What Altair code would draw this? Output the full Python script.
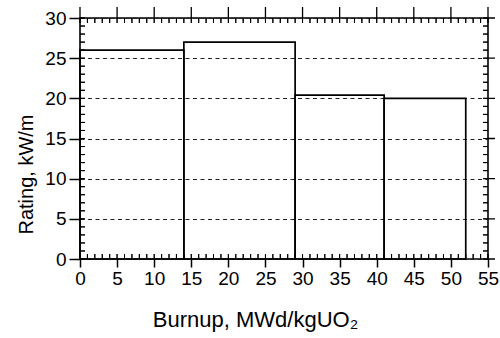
import altair as alt
import pandas as pd

# Fuel rating limit per burnup interval
burnup_start = [0, 14, 29, 41]
burnup_end = [14, 29, 41, 52]
rating = [26, 27, 20.4, 20]

x_major = list(range(0, 56, 5))
x_minor = list(range(0, 56))
y_major = list(range(0, 31, 5))
y_minor = list(range(0, 31))

W, H = 408, 241
X_MAX, Y_MAX = 55, 30
FONT = "Liberation Sans"

# tick lengths converted from pixels to data units
TX_IN = 5 * X_MAX / W
TY_IN = 5 * Y_MAX / H
TY_OUT = 11 * Y_MAX / H
TX_OUT = 7 * X_MAX / W

# one table of rectangles: the rating steps plus the frame tick marks
rows = []
for s, e, r in zip(burnup_start, burnup_end, rating):
    rows.append({"x0": s, "x1": e, "y0": 0, "y1": r, "w": 1.7})
for v in x_minor:
    rows.append({"x0": v, "x1": v, "y0": 0, "y1": TY_IN, "w": 1.0})
    rows.append({"x0": v, "x1": v, "y0": Y_MAX - TY_IN, "y1": Y_MAX, "w": 1.0})
for v in y_minor:
    rows.append({"x0": 0, "x1": TX_IN, "y0": v, "y1": v, "w": 1.0})
    rows.append({"x0": X_MAX - TX_IN, "x1": X_MAX, "y0": v, "y1": v, "w": 1.0})
for v in x_major:
    rows.append({"x0": v, "x1": v, "y0": Y_MAX, "y1": Y_MAX + TY_OUT, "w": 1.3})
for v in y_major:
    rows.append({"x0": X_MAX, "x1": X_MAX + TX_OUT, "y0": v, "y1": v, "w": 1.3})
shapes = pd.DataFrame(rows)

xscale = alt.Scale(domain=[0, X_MAX], nice=False, zero=False)
yscale = alt.Scale(domain=[0, Y_MAX], nice=False, zero=False)

x_axis = alt.Axis(
    values=x_major, title="Burnup, MWd/kgUO₂", domain=False, grid=False,
    tickSize=8, tickColor="black", tickWidth=1.5,
    labelFont=FONT, labelFontSize=19, labelColor="black", labelPadding=2,
    labelFlush=False,
    titleFont=FONT, titleFontSize=22, titleFontWeight="normal", titleColor="black",
    titleX=175, titleY=67, titleBaseline="alphabetic", titleAlign="center",
)
y_axis = alt.Axis(
    values=y_major, title="Rating, kW/m", domain=False,
    grid=True, gridDash=[4, 3.5], gridColor="#222222", gridWidth=1,
    tickSize=11, tickColor="black", tickWidth=1.5,
    labelFont=FONT, labelFontSize=19, labelColor="black", labelPadding=3,
    labelFlush=False,
    titleFont=FONT, titleFontSize=20, titleFontWeight="normal", titleColor="black",
    titleAngle=270, titleX=-47.5, titleY=156, titleBaseline="alphabetic",
    titleAlign="center",
)

chart = alt.Chart(shapes).mark_rect(
    fill="transparent", stroke="black"
).encode(
    x=alt.X("x0:Q", scale=xscale, axis=x_axis),
    x2="x1:Q",
    y=alt.Y("y0:Q", scale=yscale, axis=y_axis),
    y2="y1:Q",
    strokeWidth=alt.StrokeWidth("w:Q", scale=None, legend=None),
).properties(
    width=W, height=H,
    padding={"left": 80, "top": 18, "right": 12, "bottom": 79},
    autosize=alt.AutoSizeParams(type="none"),
    background="white",
).configure_view(stroke="black", strokeWidth=1.6)

chart.save("out.html", embed_options={"renderer": "svg", "actions": False})
